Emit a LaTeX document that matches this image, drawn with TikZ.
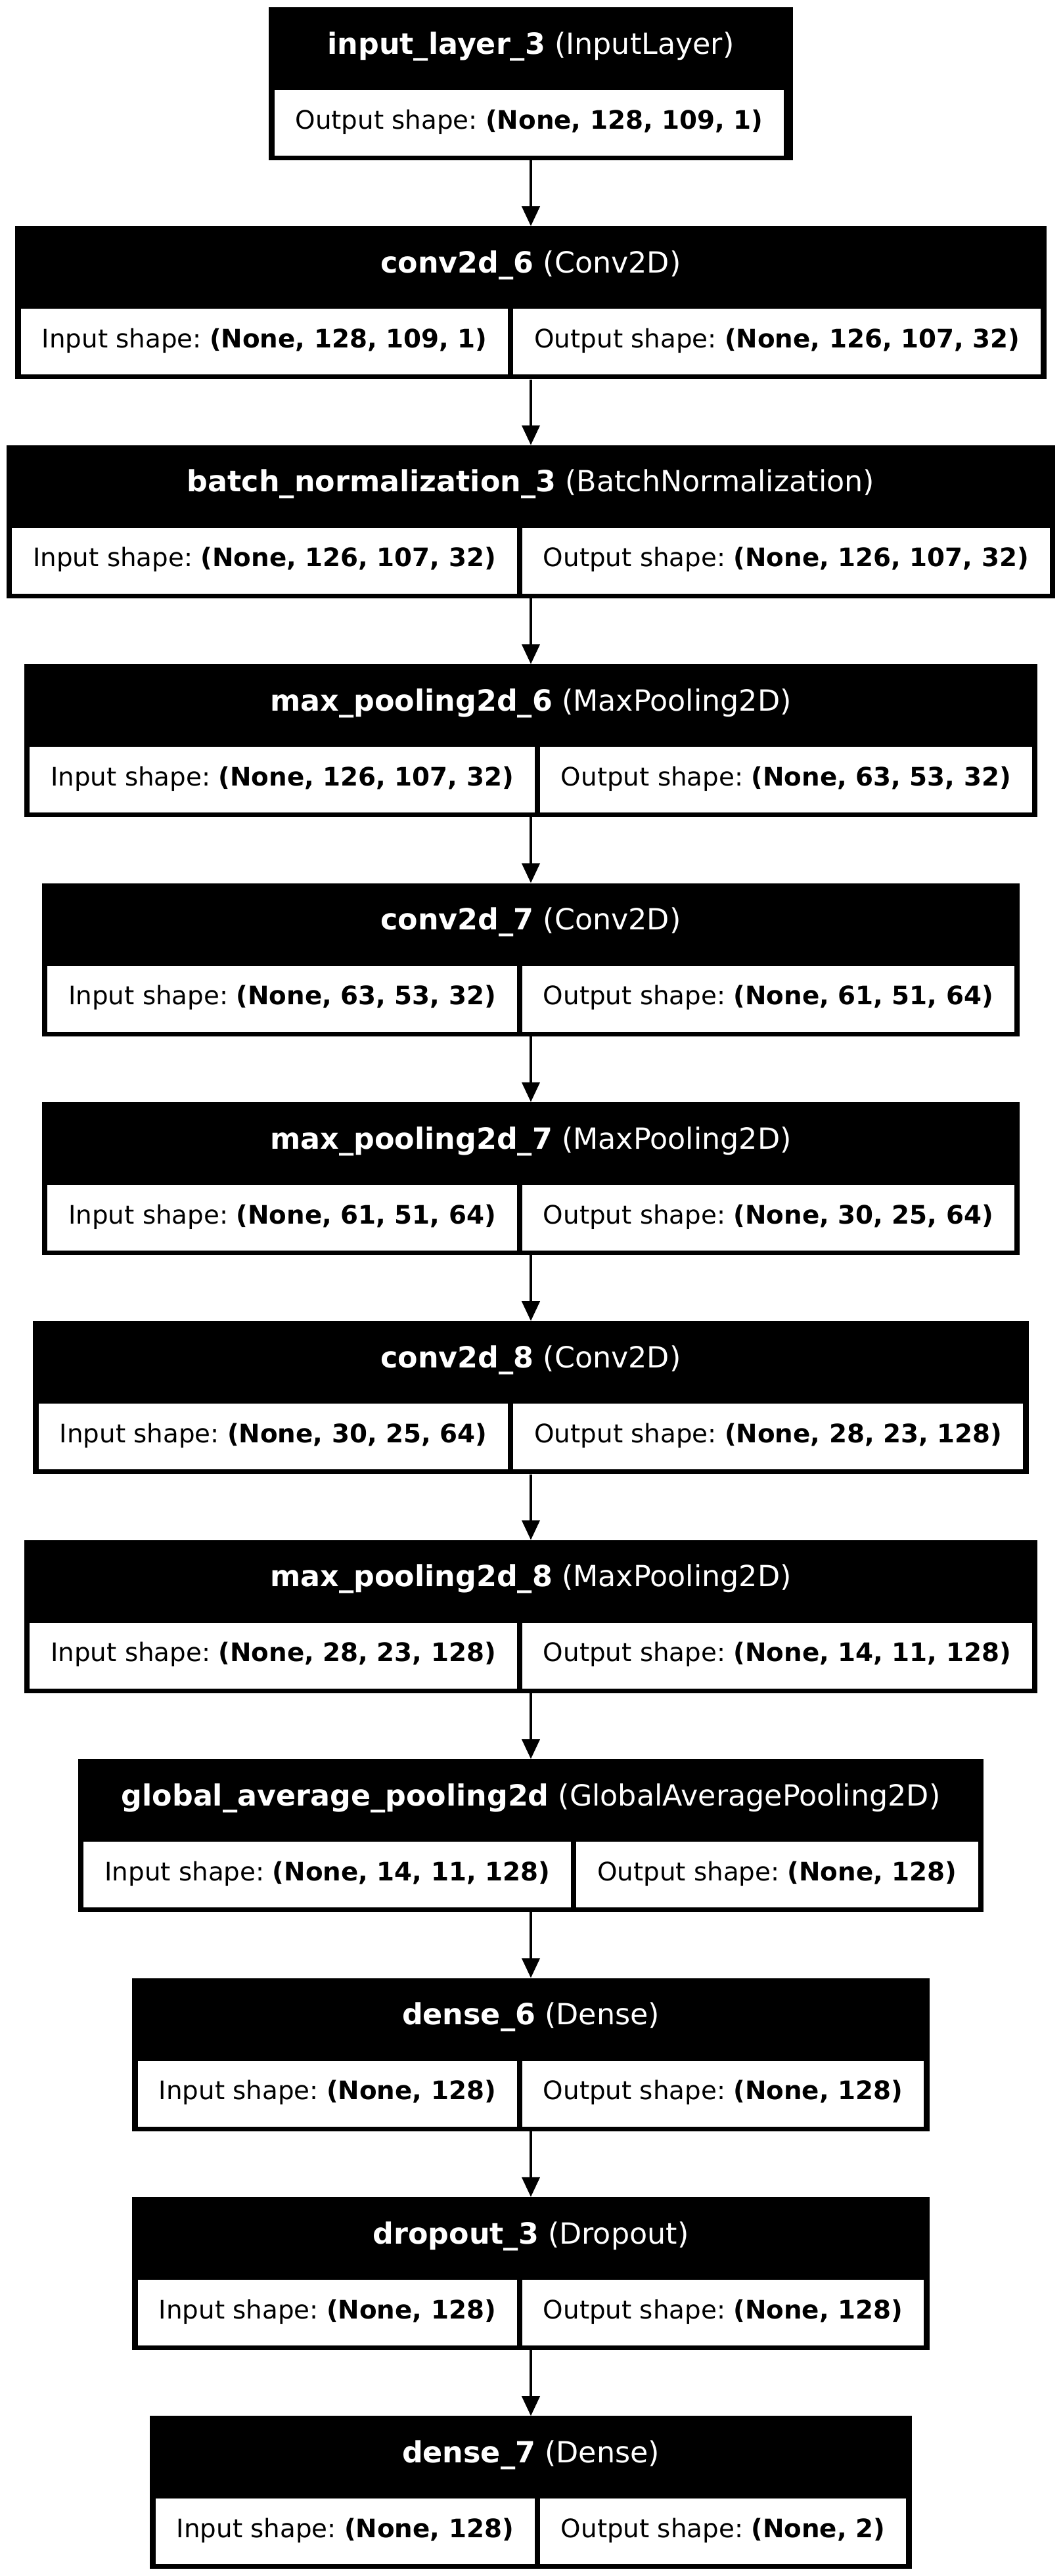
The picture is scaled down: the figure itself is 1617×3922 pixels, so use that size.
\documentclass[tikz,border=0pt]{standalone}
\usepackage{fontspec}
\setmainfont{DejaVu Sans}
\usetikzlibrary{arrows.meta}
\tikzset{
  outerbox/.style={rectangle, fill=black, draw=none, inner sep=0pt, minimum height=233pt},
  headbox/.style={rectangle, draw=none, inner sep=0pt, minimum height=126pt, text=white,
    font=\fontsize{44.4}{52}\selectfont\frenchspacing, text height=34pt, text depth=18pt},
  cellbox/.style={rectangle, fill=white, draw=none, inner sep=0pt, minimum height=100pt,
    text=black, font=\fontsize{38.8}{46}\selectfont\frenchspacing, text height=30pt, text depth=12pt},
  flowarrow/.style={line width=4pt, -{Triangle[length=30pt,width=27pt]}}
}
\newcommand{\kerasrow}[8]{%
  \pgfmathsetmacro{\kTop}{11+#2*333.4}%
  \pgfmathsetmacro{\kTot}{#5+#6+25}%
  \pgfmathsetmacro{\kLeft}{808-\kTot/2}%
  \pgfmathsetmacro{\kCa}{\kLeft+8.5+#5/2}%
  \pgfmathsetmacro{\kCb}{\kLeft+16.5+#5+#6/2}%
  \node[outerbox, minimum width=\kTot pt] (#1) at (808,\kTop+116.5) {};
  \node[headbox, minimum width=\kTot pt] (#1h) at (808,\kTop+63) {\textbf{#3} (#4)};
  \node[cellbox, minimum width=#5 pt] (#1a) at (\kCa,\kTop+176) {Input shape: \textbf{#7}};
  \node[cellbox, minimum width=#6 pt] (#1b) at (\kCb,\kTop+176) {Output shape: \textbf{#8}};
}
\begin{document}
\begin{tikzpicture}[x=1pt,y=-1pt]
\useasboundingbox (0,0) rectangle (1617,3922);
% input layer (single cell)
\node[outerbox, minimum width=798pt] (L1) at (808,127.5) {};
\node[headbox, minimum width=798pt] (L1h) at (808,74) {\textbf{input\_layer\_3} (InputLayer)};
\node[cellbox, minimum width=775pt] (L1a) at (805.5,187) {Output shape: \textbf{(None, 128, 109, 1)}};
\kerasrow{L2}{1}{conv2d\_6}{Conv2D}{741.7}{803.0}{(None, 128, 109, 1)}{(None, 126, 107, 32)}
\kerasrow{L3}{2}{batch\_normalization\_3}{BatchNormalization}{768.7}{803.0}{(None, 126, 107, 32)}{(None, 126, 107, 32)}
\kerasrow{L4}{3}{max\_pooling2d\_6}{MaxPooling2D}{768.7}{749.0}{(None, 126, 107, 32)}{(None, 63, 53, 32)}
\kerasrow{L5}{4}{conv2d\_7}{Conv2D}{714.7}{749.0}{(None, 63, 53, 32)}{(None, 61, 51, 64)}
\kerasrow{L6}{5}{max\_pooling2d\_7}{MaxPooling2D}{714.7}{749.0}{(None, 61, 51, 64)}{(None, 30, 25, 64)}
\kerasrow{L7}{6}{conv2d\_8}{Conv2D}{714.7}{776.0}{(None, 30, 25, 64)}{(None, 28, 23, 128)}
\kerasrow{L8}{7}{max\_pooling2d\_8}{MaxPooling2D}{741.7}{776.0}{(None, 28, 23, 128)}{(None, 14, 11, 128)}
\kerasrow{L9}{8}{global\_average\_pooling2d}{GlobalAveragePooling2D}{741.7}{611.4}{(None, 14, 11, 128)}{(None, 128)}
\kerasrow{L10}{9}{dense\_6}{Dense}{577.1}{611.4}{(None, 128)}{(None, 128)}
\kerasrow{L11}{10}{dropout\_3}{Dropout}{577.1}{611.4}{(None, 128)}{(None, 128)}
\kerasrow{L12}{11}{dense\_7}{Dense}{577.1}{557.4}{(None, 128)}{(None, 2)}
% connectors
\foreach \a/\b in {L1/L2,L2/L3,L3/L4,L4/L5,L5/L6,L6/L7,L7/L8,L8/L9,L9/L10,L10/L11,L11/L12}
  \draw[flowarrow] (\a.south) -- (\b.north);
\end{tikzpicture}
\end{document}
